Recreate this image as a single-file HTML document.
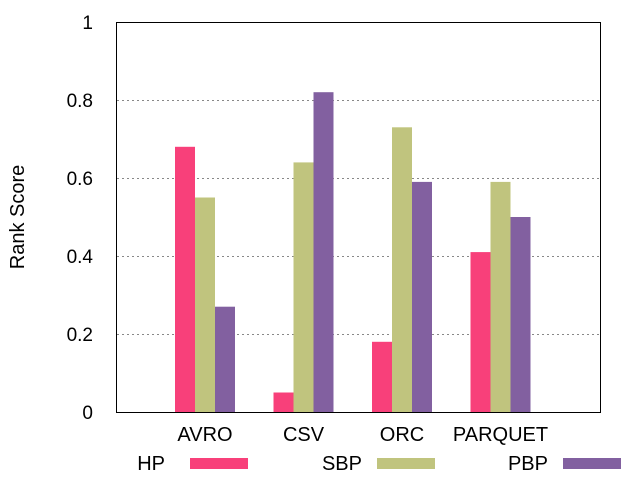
<!DOCTYPE html>
<html><head><meta charset="utf-8"><style>
body{margin:0;background:#fff;font-family:"Liberation Sans",sans-serif}
</style></head><body>
<svg id="chart" width="640" height="480" xmlns="http://www.w3.org/2000/svg" font-family="Liberation Sans, sans-serif">
<g id="grid"></g>
<g id="bars"></g>
<rect x="116.5" y="22.5" width="484" height="390" fill="none" stroke="#000"/>
<g id="yticks"></g>
<g id="xlabels"></g>
<text x="24" y="217" font-size="20" text-anchor="middle" transform="rotate(-90 24 217)">Rank Score</text>
<g id="legend"></g>
</svg>
<script>
const categories=["AVRO","CSV","ORC","PARQUET"];
const seriesNames=["HP","SBP","PBP"];
const hpValues=[0.68,0.05,0.18,0.41];
const sbpValues=[0.55,0.64,0.73,0.59];
const pbpValues=[0.27,0.82,0.59,0.50];
const yTicks=[0,0.2,0.4,0.6,0.8,1];
const yTickLabels=["0","0.2","0.4","0.6","0.8","1"];
const colors=["#f8407a","#c0c47e","#8260a0"];
const NS="http://www.w3.org/2000/svg";
function y(v){return 412-v*390;}
function xc(i){return 205+98.5*i;}
function mk(t,a,p){const e=document.createElementNS(NS,t);for(const k in a)e.setAttribute(k,a[k]);p.appendChild(e);return e;}
const grid=document.getElementById('grid'),yt=document.getElementById('yticks');
yTicks.forEach((v,i)=>{
 if(v>0&&v<1){const l=mk('line',{x1:117,x2:600,y1:y(v)+0.5,y2:y(v)+0.5,stroke:'#888','stroke-dasharray':'2,3'},grid);
 
 }
 const t=mk('text',{x:93,y:y(v)+7,'font-size':19,'text-anchor':'end'},yt);t.textContent=yTickLabels[i];
 
 
});
const series=[hpValues,sbpValues,pbpValues];
const bars=document.getElementById('bars');
categories.forEach((c,i)=>{
 series.forEach((s,j)=>{
  const x=xc(i)-30+20*j;
  const r=mk('rect',{x:x,y:y(s[i]),width:20,height:412-y(s[i]),fill:colors[j]},bars);
  
  
 });
 const t=mk('text',{x:xc(i),y:441,'font-size':20,'text-anchor':'middle'},document.getElementById('xlabels'));
 t.textContent=c;
 
 
});
const lg=document.getElementById('legend');
const lx=[[165,190],[362,377],[548,563]];
seriesNames.forEach((n,j)=>{
 const t=mk('text',{x:lx[j][0],y:470,'font-size':20,'text-anchor':'end'},lg);t.textContent=n;
 
 
 const r=mk('rect',{x:lx[j][1],y:458,width:58,height:11,fill:colors[j]},lg);
 
 
});
</script>
</body></html>
